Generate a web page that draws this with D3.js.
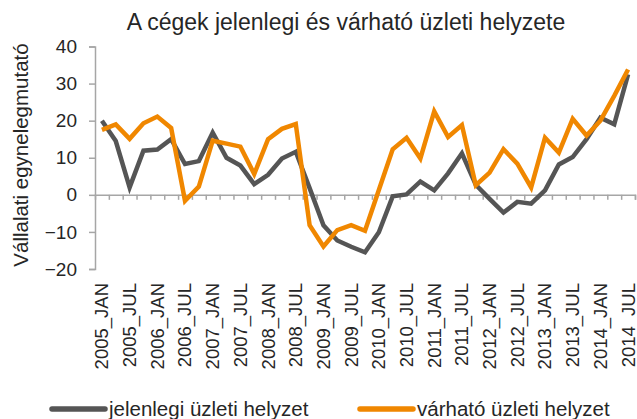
<!DOCTYPE html>
<html>
<head>
<meta charset="utf-8">
<script src="https://cdn.jsdelivr.net/npm/d3@7"></script>
<style>
  body { margin: 0; background: #fff; }
  text { font-family: "Liberation Sans", Arial, sans-serif; fill: #262626; }
</style>
</head>
<body>
<script>
// quarterly values, 2005 Q1 .. 2014 Q3
var jelenlegi = [20.0, 14.5, 2.0, 11.9, 12.2, 15.0, 8.3, 9.1, 16.8, 10.0,
                 7.9, 2.9, 5.4, 9.8, 11.6, 1.8, -8.2, -12.3, -14.0, -15.5,
                 -10.1, -0.4, 0.1, 3.6, 1.2, 5.8, 11.2, 2.7, -1.1, -4.8,
                 -1.9, -2.4, 1.2, 8.2, 10.2, 15.0, 20.8, 19.0, 32.5];
var varhato = [17.5, 19.0, 15.1, 19.3, 21.1, 18.0, -1.6, 2.2, 14.6, 13.8,
               13.0, 5.6, 15.0, 17.8, 19.1, -8.2, -13.9, -9.5, -8.2, -9.7,
               1.3, 12.3, 15.4, 9.8, 22.5, 15.6, 18.8, 2.6, 6.0, 12.3,
               8.4, 2.0, 15.4, 11.4, 20.5, 16.0, 20.0, 26.7, 33.8];
var tickLabels = ["2005_JAN", "2005_JUL", "2006_JAN", "2006_JUL", "2007_JAN",
                  "2007_JUL", "2008_JAN", "2008_JUL", "2009_JAN", "2009_JUL",
                  "2010_JAN", "2010_JUL", "2011_JAN", "2011_JUL", "2012_JAN",
                  "2012_JUL", "2013_JAN", "2013_JUL", "2014_JAN", "2014_JUL"];
var yTicks = [-20, -10, 0, 10, 20, 30, 40];
var seriesNames = ["jelenlegi üzleti helyzet", "várható üzleti helyzet"];
var colors = ["#555555", "#f08700"];

var width = 637, height = 419;
var axisColor = "#a6a6a6";

var svg = d3.select("body").append("svg")
    .attr("width", width)
    .attr("height", height);

var x = d3.scaleBand().domain(d3.range(jelenlegi.length)).range([95, 635]);
var xb = d3.scaleLinear().domain([0, jelenlegi.length]).range([95, 635]);
var y = d3.scaleLinear().domain([-20, 40]).range([269, 46.5]);

// title
svg.append("text")
    .attr("x", 346)
    .attr("y", 30)
    .attr("text-anchor", "middle")
    .style("font-size", "23px")
    .text("A cégek jelenlegi és várható üzleti helyzete");

// y axis
var yAxis = svg.append("g")
    .attr("transform", "translate(95,0)")
    .call(d3.axisLeft(y).tickValues(yTicks).tickSize(6).tickPadding(12));
yAxis.selectAll("path, line").attr("stroke", axisColor).attr("stroke-width", 1.5);
yAxis.selectAll("text").style("font-size", "19px").attr("fill", "#262626");

svg.append("text")
    .attr("transform", "translate(28,155) rotate(-90)")
    .attr("text-anchor", "middle")
    .style("font-size", "20.5px")
    .text("Vállalati egynelegmutató");

// x axis on the zero line
var xAxis = svg.append("g")
    .attr("transform", "translate(0," + y(0) + ")")
    .call(d3.axisBottom(xb).tickValues(d3.range(1, jelenlegi.length + 1)).tickSize(5).tickFormat(""));
xAxis.selectAll("path, line").attr("stroke", axisColor).attr("stroke-width", 1.5);

svg.append("g").selectAll("text")
    .data(tickLabels)
    .enter().append("text")
    .attr("transform", function (d, i) {
        return "translate(" + (x(i * 2) + x.bandwidth() / 2) + ",283) rotate(-90)";
    })
    .attr("dy", "0.35em")
    .attr("text-anchor", "end")
    .style("font-size", "18.5px")
    .text(function (d) { return d; });

// lines
var line = d3.line()
    .x(function (d, i) { return x(i) + x.bandwidth() / 2; })
    .y(function (d) { return y(d); });

[jelenlegi, varhato].forEach(function (s, k) {
    svg.append("path")
        .datum(s)
        .attr("fill", "none")
        .attr("stroke", colors[k])
        .attr("stroke-width", 4.5)
        .attr("stroke-linejoin", "miter")
        .attr("d", line);
});

// legend
var legendX = [52, 360];
var legend = svg.append("g").selectAll("g")
    .data(seriesNames)
    .enter().append("g")
    .attr("transform", function (d, i) { return "translate(" + legendX[i] + ",409)"; });
legend.append("line")
    .attr("x1", 0).attr("x2", 53)
    .attr("stroke", function (d, i) { return colors[i]; })
    .attr("stroke-width", 5.5)
    .attr("stroke-linecap", "round");
legend.append("text")
    .attr("x", 57)
    .attr("dy", "0.35em")
    .style("font-size", "20.5px")
    .text(function (d) { return d; });
</script>
</body>
</html>
